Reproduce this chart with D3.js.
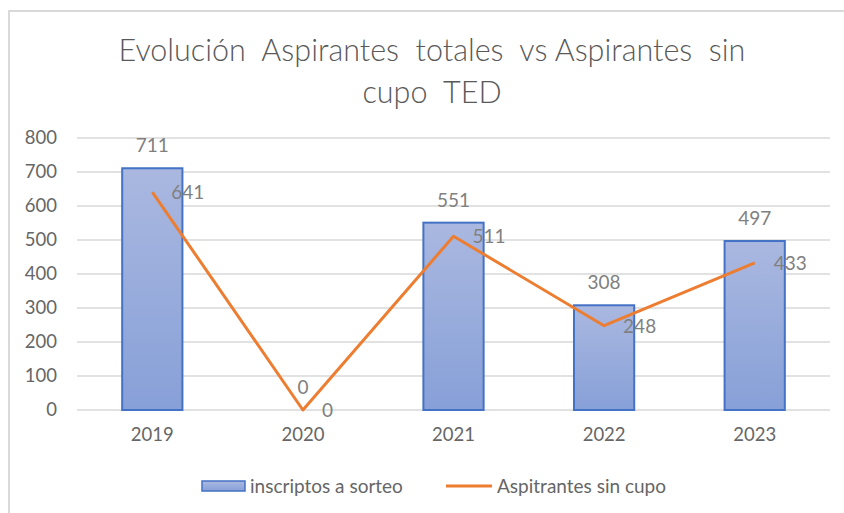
<!DOCTYPE html>
<html>
<head>
<meta charset="utf-8">
<script src="https://cdn.jsdelivr.net/npm/d3@7"></script>
<style>
  body { margin: 0; background: #fff; }
  svg text { font-family: Lato, "Open Sans", sans-serif; }
</style>
</head>
<body>
<div id="chart"></div>
<script>
const years = ['2019', '2020', '2021', '2022', '2023'];
const inscriptos = [711, 0, 551, 308, 497];
const sinCupo = [641, 0, 511, 248, 433];
const yTicks = [0, 100, 200, 300, 400, 500, 600, 700, 800];
const titleLines = ['Evolución  Aspirantes  totales  vs Aspirantes  sin', 'cupo  TED'];

const W = 844, H = 513;
const margin = { top: 138, right: 14, bottom: 103, left: 77 };
const width = W - margin.left - margin.right;
const height = H - margin.top - margin.bottom;

const svg = d3.select('#chart')
  .append('svg')
  .attr('width', W)
  .attr('height', H);

// chart frame
svg.append('rect')
  .attr('x', 9).attr('y', 11)
  .attr('width', W + 20).attr('height', H + 20)
  .attr('fill', '#fff')
  .attr('stroke', '#d9d9d9')
  .attr('stroke-width', 2);

const defs = svg.append('defs');
const grad = defs.append('linearGradient')
  .attr('id', 'barGrad')
  .attr('x1', 0).attr('y1', 0).attr('x2', 0).attr('y2', 1);
grad.append('stop').attr('offset', '0%').attr('stop-color', '#aab8e0');
grad.append('stop').attr('offset', '100%').attr('stop-color', '#87a0d8');

titleLines.forEach((t, i) => {
  svg.append('text')
    .attr('x', 432)
    .attr('y', 61 + i * 42)
    .attr('text-anchor', 'middle')
    .style('font-size', '30.5px')
    .style('font-weight', 300)
    .attr('fill', '#595959')
    .style('white-space', 'pre')
    .text(t);
});

const g = svg.append('g')
  .attr('transform', `translate(${margin.left},${margin.top})`);

const x = d3.scaleBand().domain(years).range([0, width]).paddingInner(0).paddingOuter(0);
const y = d3.scaleLinear().domain([0, 800]).range([height, 0]);
const barW = x.bandwidth() * 0.4;

// gridlines
g.selectAll('.grid')
  .data(yTicks)
  .enter().append('line')
  .attr('x1', 0).attr('x2', width)
  .attr('y1', d => y(d)).attr('y2', d => y(d))
  .attr('stroke', '#d9d9d9')
  .attr('stroke-width', 1.5);

// y axis labels
const yAxis = g.append('g')
  .call(d3.axisLeft(y).tickValues(yTicks).tickSize(0).tickPadding(20));
yAxis.select('.domain').remove();
yAxis.selectAll('text')
  .attr('fill', '#666')
  .style('font-size', '18.5px');

// x axis labels
const xAxis = g.append('g')
  .attr('transform', `translate(0,${height})`)
  .call(d3.axisBottom(x).tickSize(0).tickPadding(18));
xAxis.select('.domain').remove();
xAxis.selectAll('text')
  .attr('fill', '#666')
  .style('font-size', '18.5px');

// bars
g.selectAll('.bar')
  .data(inscriptos)
  .enter().append('rect')
  .attr('class', 'bar')
  .attr('x', (d, i) => x(years[i]) + (x.bandwidth() - barW) / 2)
  .attr('y', d => y(d))
  .attr('width', barW)
  .attr('height', d => height - y(d))
  .attr('fill', 'url(#barGrad)')
  .attr('stroke', '#4472c4')
  .attr('stroke-width', d => d > 0 ? 2 : 0);

// bar labels
g.selectAll('.barLabel')
  .data(inscriptos)
  .enter().append('text')
  .attr('x', (d, i) => x(years[i]) + x.bandwidth() / 2)
  .attr('y', d => y(d) - 16)
  .attr('text-anchor', 'middle')
  .attr('fill', '#808080')
  .style('font-size', '19px')
  .text(d => d);

// line
const line = d3.line()
  .x((d, i) => x(years[i]) + x.bandwidth() / 2)
  .y(d => y(d));
g.append('path')
  .datum(sinCupo)
  .attr('d', line)
  .attr('fill', 'none')
  .attr('stroke', '#ed7d31')
  .attr('stroke-width', 3)
  .attr('stroke-linejoin', 'round');

// line labels
g.selectAll('.lineLabel')
  .data(sinCupo)
  .enter().append('text')
  .attr('x', (d, i) => x(years[i]) + x.bandwidth() / 2 + 19)
  .attr('y', d => y(d) + 7)
  .attr('fill', '#808080')
  .style('font-size', '19px')
  .text(d => d);

// legend
const legend = svg.append('g').attr('transform', 'translate(0,486)');
legend.append('rect')
  .attr('x', 202).attr('y', -5)
  .attr('width', 43).attr('height', 10)
  .attr('fill', 'url(#barGrad)')
  .attr('stroke', '#4472c4')
  .attr('stroke-width', 1.5);
legend.append('text')
  .attr('x', 250).attr('y', 7)
  .attr('fill', '#666')
  .style('font-size', '19px')
  .text('inscriptos a sorteo');
legend.append('line')
  .attr('x1', 446).attr('x2', 492)
  .attr('y1', 0).attr('y2', 0)
  .attr('stroke', '#ed7d31')
  .attr('stroke-width', 3);
legend.append('text')
  .attr('x', 497).attr('y', 7)
  .attr('fill', '#666')
  .style('font-size', '19px')
  .text('Aspitrantes sin cupo');
</script>
</body>
</html>
